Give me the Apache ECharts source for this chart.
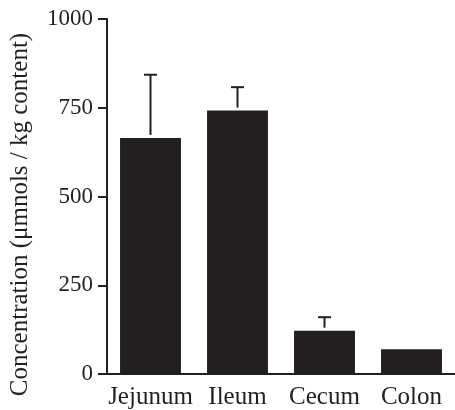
<!DOCTYPE html>
<html>
<head>
<meta charset="utf-8">
<script src="https://cdn.jsdelivr.net/npm/echarts@6/dist/echarts.min.js"></script>
<style>
html,body{margin:0;padding:0;background:#fff;}
#c{width:455px;height:410px;}
</style>
</head>
<body>
<div id="c"></div>
<script>
const categories = ['Jejunum', 'Ileum', 'Cecum', 'Colon'];
const means = [665, 742, 122, 70];
const upperErrors = [843, 808, 160, null];
const yTicks = [0, 250, 500, 750, 1000];

const chart = echarts.init(document.getElementById('c'), null, {renderer: 'canvas'});
const font = '"Liberation Serif", "Times New Roman", serif';
const ink = '#231f20';

const errData = categories.map((c, i) => [i, means[i], upperErrors[i]]).filter(d => d[2] != null);

chart.setOption({
  animation: false,
  backgroundColor: '#fff',
  grid: {left: 106, top: 19, width: 360, height: 356, containLabel: false},
  xAxis: {
    type: 'category',
    data: categories,
    axisLine: {lineStyle: {color: ink, width: 2}},
    axisTick: {show: false},
    axisLabel: {color: ink, fontFamily: font, fontSize: 25, margin: 11, interval: 0}
  },
  yAxis: {
    type: 'value',
    min: yTicks[0],
    max: yTicks[yTicks.length - 1],
    interval: 250,
    name: 'Concentration (\u03bcmnols / kg content)',
    nameLocation: 'middle',
    nameGap: 74,
    nameTextStyle: {color: ink, fontFamily: font, fontSize: 25, padding: [0, 36, 0, 0]},
    axisLine: {show: true, lineStyle: {color: ink, width: 2}},
    axisTick: {show: true, inside: false, length: 9, lineStyle: {color: ink, width: 2}},
    axisLabel: {color: ink, fontFamily: font, fontSize: 23, margin: 14, formatter: v => String(v)},
    splitLine: {show: false}
  },
  series: [
    {
      type: 'bar',
      data: means,
      barWidth: '70%',
      itemStyle: {color: ink},
      z: 2
    },
    {
      type: 'custom',
      data: errData,
      z: 3,
      renderItem: function (params, api) {
        const x = api.value(0);
        const lo = api.coord([x, api.value(1)]);
        const hi = api.coord([x, api.value(2)]);
        const half = 6.5;
        const style = {stroke: ink, lineWidth: 2};
        return {
          type: 'group',
          children: [
            {type: 'line', shape: {x1: lo[0], y1: lo[1] - 3, x2: hi[0], y2: hi[1]}, style: style},
            {type: 'line', shape: {x1: hi[0] - half, y1: hi[1], x2: hi[0] + half, y2: hi[1]}, style: style}
          ]
        };
      }
    }
  ]
});
</script>
</body>
</html>
